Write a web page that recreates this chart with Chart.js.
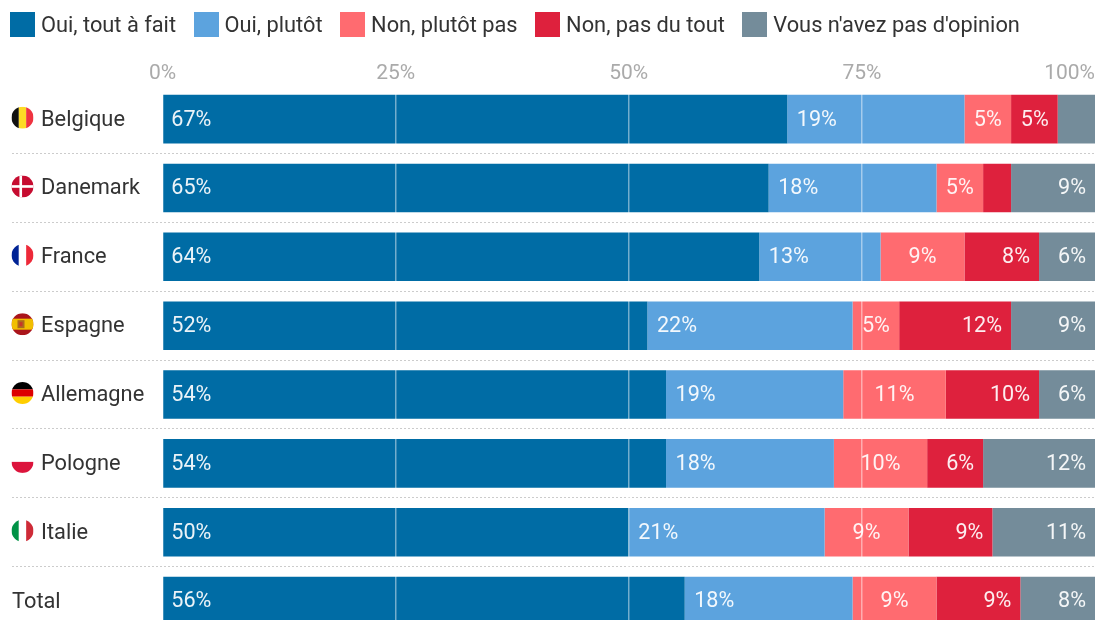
<!DOCTYPE html>
<html lang="fr">
<head>
<meta charset="utf-8">
<title>Sondage par pays</title>
<script src="https://cdn.jsdelivr.net/npm/chart.js@4"></script>
<style>
  html, body { margin: 0; padding: 0; background: #fff; overflow: hidden; }
  #page { position: relative; width: 1098px; height: 620px; overflow: hidden; }
  #legende { position: absolute; left: 10px; top: 11px; display: flex; font: 21.8px Roboto, sans-serif; color: #333; }
  #legende div { display: flex; align-items: center; height: 26px; margin-right: 17.5px; white-space: nowrap; }
  #legende span { display: block; width: 25px; height: 25px; margin-right: 6px; }
  canvas { position: absolute; left: 0; top: 0; }
</style>
</head>
<body>
<div id="page">
  <canvas id="graphique" width="1098" height="650"></canvas>
  <div id="legende"></div>
</div>
<script>
// === DONNÉES ===
const pays = ['Belgique', 'Danemark', 'France', 'Espagne', 'Allemagne', 'Pologne', 'Italie', 'Total'];
const ouiToutAFait = [67, 65, 64, 52, 54, 54, 50, 56];
const ouiPlutot = [19, 18, 13, 22, 19, 18, 21, 18];
const nonPlutotPas = [5, 5, 9, 5, 11, 10, 9, 9];
const nonPasDuTout = [5, 3, 8, 12, 10, 6, 9, 9];
const sansOpinion = [4, 9, 6, 9, 6, 12, 11, 8];
const reponses = ['Oui, tout à fait', 'Oui, plutôt', 'Non, plutôt pas', 'Non, pas du tout', "Vous n'avez pas d'opinion"];
const couleurs = ['#006ca5', '#5ca3de', '#ff6b70', '#de213d', '#748c9a'];
const alignements = ['left', 'left', 'center', 'right', 'right'];

const POLICE = 'Roboto, sans-serif';

// DRAPEAUX (disque découpé, bandes dedans)
function dessinerDrapeau(ctx, nom, cx, cy, r) {
  const x = cx - r, y = cy - r, d = 2 * r;
  const vertical = (a, b, c) => {
    ctx.fillStyle = a; ctx.fillRect(x, y, d / 3, d);
    ctx.fillStyle = b; ctx.fillRect(x + d / 3, y, d / 3, d);
    ctx.fillStyle = c; ctx.fillRect(x + 2 * d / 3, y, d / 3, d);
  };
  const horizontal = (a, b, c) => {
    ctx.fillStyle = a; ctx.fillRect(x, y, d, d / 3);
    ctx.fillStyle = b; ctx.fillRect(x, y + d / 3, d, d / 3);
    ctx.fillStyle = c; ctx.fillRect(x, y + 2 * d / 3, d, d / 3);
  };

  ctx.save();
  ctx.beginPath();
  ctx.arc(cx, cy, r, 0, Math.PI * 2);
  ctx.clip();
  if (nom === 'Belgique') vertical('#111', '#fdda25', '#ef3340');
  if (nom === 'France') vertical('#002395', '#fff', '#ed2939');
  if (nom === 'Italie') vertical('#009246', '#fff', '#ce2b37');
  if (nom === 'Allemagne') horizontal('#000', '#dd0000', '#ffce00');
  if (nom === 'Danemark') {
    ctx.fillStyle = '#c60c30'; ctx.fillRect(x, y, d, d);
    ctx.fillStyle = '#fff';
    ctx.fillRect(x + d * 0.36, y, d * 0.12, d);
    ctx.fillRect(x, cy - d * 0.06, d, d * 0.12);
  }
  if (nom === 'Espagne') {
    ctx.fillStyle = '#aa151b'; ctx.fillRect(x, y, d, d);
    ctx.fillStyle = '#f1bf00'; ctx.fillRect(x, y + d / 4, d, d / 2);
    ctx.fillStyle = '#ad6a1d'; ctx.fillRect(cx - 5, cy - 4, 7, 8);
    ctx.fillStyle = '#c8352a'; ctx.fillRect(cx - 3, cy - 2, 3, 4);
  }
  if (nom === 'Pologne') {
    ctx.fillStyle = '#fff'; ctx.fillRect(x, y, d, r);
    ctx.fillStyle = '#dc143c'; ctx.fillRect(x, cy, d, r);
  }
  ctx.restore();
}

// TEXTES ET SÉPARATEURS AUTOUR DES BARRES
const habillage = {
  id: 'habillage',
  beforeDatasetsDraw(chart) {
    const { ctx, scales: { x: axeX, y: axeY } } = chart;
    ctx.save();
    ctx.strokeStyle = '#cccccc';
    ctx.lineWidth = 1;
    ctx.setLineDash([2, 2]);
    for (let i = 1; i < pays.length; i++) {
      const yLigne = Math.floor((axeY.getPixelForValue(i - 1) + axeY.getPixelForValue(i)) / 2) + 0.5;
      ctx.beginPath();
      ctx.moveTo(12, yLigne);
      ctx.lineTo(axeX.right, yLigne);
      ctx.stroke();
    }
    ctx.restore();
  },
  afterDraw(chart) {
    const { ctx, scales: { x: axeX, y: axeY } } = chart;
    ctx.save();
    ctx.textBaseline = 'middle';

    // graduations du haut
    ctx.font = '21px ' + POLICE;
    ctx.fillStyle = '#aaaaaa';
    axeX.ticks.forEach(t => {
      ctx.textAlign = t.value === 100 ? 'right' : 'center';
      ctx.fillText(t.value + '%', axeX.getPixelForValue(t.value), 74);
    });

    // pays et drapeaux
    ctx.font = '21.8px ' + POLICE;
    pays.forEach((nom, i) => {
      const yPays = axeY.getPixelForValue(i);
      ctx.fillStyle = '#333';
      ctx.textAlign = 'left';
      if (nom === 'Total') {
        ctx.fillText(nom, 12, yPays + 1);
      } else {
        ctx.fillText(nom, 41, yPays + 1);
        dessinerDrapeau(ctx, nom, 22.5, yPays - 1.5, 11);
      }
    });

    // valeurs dans les barres (rien sous 5 %)
    ctx.font = '21.6px ' + POLICE;
    ctx.fillStyle = 'rgba(255,255,255,0.92)';
    chart.data.datasets.forEach((ds, s) => {
      chart.getDatasetMeta(s).data.forEach((barre, i) => {
        if (ds.data[i] < 5) return;
        const debut = barre.base, fin = barre.x;
        ctx.textAlign = alignements[s];
        let xTexte = (debut + fin) / 2;
        if (alignements[s] === 'left') xTexte = debut + (s === 0 ? 8 : 9.5);
        if (alignements[s] === 'right') xTexte = fin - 9;
        ctx.fillText(ds.data[i] + '%', xTexte, barre.y + 1);
      });
    });
    ctx.restore();
  }
};

// LÉGENDE
function creerLegende() {
  const conteneur = document.getElementById('legende');
  reponses.forEach((texte, i) => {
    const div = document.createElement('div');
    const pastille = document.createElement('span');
    pastille.style.backgroundColor = couleurs[i];
    div.appendChild(pastille);
    div.appendChild(document.createTextNode(texte));
    conteneur.appendChild(div);
  });
}

// GRAPHIQUE
const series = [ouiToutAFait, ouiPlutot, nonPlutotPas, nonPasDuTout, sansOpinion];

new Chart(document.getElementById('graphique'), {
  type: 'bar',
  data: {
    labels: pays,
    datasets: series.map((valeurs, i) => ({
      label: reponses[i],
      data: valeurs,
      backgroundColor: couleurs[i],
      borderWidth: 0,
      barPercentage: 0.705,
      categoryPercentage: 1
    }))
  },
  options: {
    indexAxis: 'y',
    responsive: false,
    animation: false,
    layout: { padding: { left: 162.5, right: 3, top: 84.7, bottom: 14.5 } },
    plugins: { legend: { display: false }, tooltip: { enabled: false } },
    scales: {
      x: {
        stacked: true,
        min: 0,
        max: 100,
        position: 'top',
        ticks: { display: false, stepSize: 25 },
        border: { display: false },
        grid: {
          z: 1,
          drawTicks: false,
          lineWidth: 1.5,
          color: c => (c.tick.value === 0 || c.tick.value === 100) ? 'transparent' : 'rgba(255,255,255,0.45)'
        }
      },
      y: { stacked: true, display: false }
    }
  },
  plugins: [habillage]
});

creerLegende();
</script>
</body>
</html>
